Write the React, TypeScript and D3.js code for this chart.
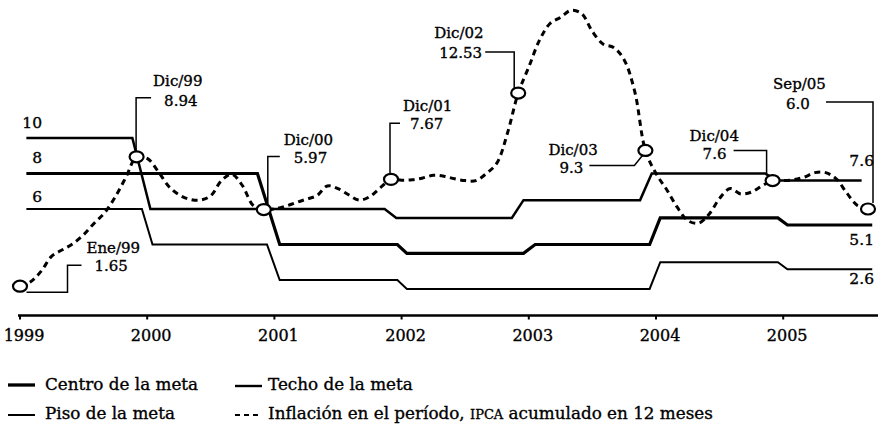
import React from 'react';
import * as d3 from 'd3';

// ---------- DATA ----------
const years = ['1999', '2000', '2001', '2002', '2003', '2004', '2005'];

// IPCA acumulado en 12 meses, Ene/99 .. Sep/05 (monthly)
const inflation = [
  // 1999
  1.65, 1.9, 2.5, 3.35, 3.7, 4.05, 4.55, 5.2, 5.8, 6.7, 7.8, 8.94,
  // 2000
  8.85, 8.15, 7.3, 6.8, 6.55, 6.5, 6.75, 7.6, 7.95, 7.3, 6.2, 5.97,
  // 2001
  6.0, 6.15, 6.35, 6.55, 6.75, 7.3, 7.15, 6.8, 6.5, 6.7, 7.2, 7.67,
  // 2002
  7.62, 7.65, 7.75, 7.9, 7.85, 7.7, 7.6, 7.6, 8.0, 8.6, 10.3, 12.53,
  // 2003
  14.0, 15.5, 16.45, 16.8, 17.2, 17.0, 16.0, 15.3, 15.1, 14.4, 12.6, 9.3,
  // 2004
  8.0, 7.1, 6.1, 5.35, 5.2, 5.7, 6.6, 7.15, 6.85, 6.95, 7.3, 7.6,
  // 2005
  7.6, 7.65, 7.8, 8.05, 8.05, 7.7, 6.9, 6.2, 6.0,
];

// target lines: [month index, value] breakpoints
const techo: [number, number][] = [
  [0.6, 10], [10.6, 10], [12.3, 6], [34.4, 6], [35.5, 5.5], [46.4, 5.5], [47.5, 6.5],
  [58.5, 6.5], [59.6, 8], [70.3, 8], [71.4, 7.6], [79.4, 7.6],
];
const centro: [number, number][] = [
  [0.6, 8], [22.4, 8], [24.5, 4], [35.6, 4], [36.5, 3.5], [47.5, 3.5], [48.6, 4],
  [59.4, 4], [60.4, 5.5], [71.5, 5.5], [72.4, 5.1], [80.4, 5.1],
];
const piso: [number, number][] = [
  [0.6, 6], [11.5, 6], [12.5, 4], [23.3, 4], [24.5, 2], [35.6, 2], [36.5, 1.5],
  [59.4, 1.5], [60.4, 3], [71.5, 3], [72.4, 2.6], [80.4, 2.6],
];

const annoLabels = ['Ene/99', 'Dic/99', 'Dic/00', 'Dic/01', 'Dic/02', 'Dic/03', 'Dic/04', 'Sep/05'];
const annoMonths = [0, 11, 23, 35, 47, 59, 71, 80];
const annoValues = ['1.65', '8.94', '5.97', '7.67', '12.53', '9.3', '7.6', '6.0'];

const startLabels = ['10', '8', '6'];
const endLabels = ['7.6', '5.1', '2.6'];

const legendLabels = ['Centro de la meta', 'Techo de la meta', 'Piso de la meta', 'Inflación en el período, '];

// ---------- LAYOUT ----------
const W = 878;
const H = 424;
const FONT = "'DejaVu Serif', 'Liberation Serif', serif";

// leader / text offsets relative to annotated point
const annoLayout = [
  { leader: [[6.5, 6], [47.5, 6], [47.5, -21], [61.5, -21]], t1: [66.5, -33], t2: [74.5, -15] },
  { leader: [[-0.5, -6], [-0.5, -59], [14.5, -59]], t1: [16.5, -71], t2: [27.5, -51] },
  { leader: [[4, -6], [4, -53], [16, -53]], t1: [20, -65], t2: [30, -47] },
  { leader: [[-1, -6], [-1, -56], [9, -56]], t1: [12, -68], t2: [19, -50] },
  { leader: [[-33, -41], [-4, -41], [-4, -5]], t1: [-84, -55], t2: [-79, -35] },
  { leader: [[-56, 15], [-11, 15], [-3, 5]], t1: [-97, 5], t2: [-86, 23] },
  { leader: [[-39, -30], [-6, -30], [-6, -5]], t1: [-83, -40], t2: [-70, -22] },
  { leader: [[-42, -107], [5, -107], [5, -6]], t1: [-95, -120], t2: [-82, -100] },
];

const txt: React.CSSProperties = { fontFamily: FONT };

export default function App() {
  const x = d3.scaleLinear().domain([0, 80]).range([20, 868]);
  const y = d3.scaleLinear().domain([0, 10]).range([315.5, 138]);
  const axisY = y(0);

  const stepLine = d3
    .line<[number, number]>()
    .x((d) => x(d[0]))
    .y((d) => y(d[1]));

  const inflLine = d3
    .line<number>()
    .x((_, i) => x(i))
    .y((d) => y(d))
    .curve(d3.curveCatmullRom.alpha(0.5));

  const targets = [
    { data: techo, w: 2.5 },
    { data: centro, w: 3.2 },
    { data: piso, w: 2 },
  ];

  const startVals = [techo[0][1], centro[0][1], piso[0][1]];
  const startDy = [-10, -10.5, -7];
  const endVals = [techo[techo.length - 1][1], centro[centro.length - 1][1], piso[piso.length - 1][1]];
  const endDy = [-14.6, 20, 14.6];

  const ink = '#000';
  const halo = { stroke: ink, strokeWidth: 0.35 };

  return (
    <svg
      width={W}
      height={H}
      style={{ position: 'absolute', left: 0, top: 0, background: '#fff', fontFamily: FONT }}
    >
      <rect x={0} y={0} width={W} height={H} fill="#fff" />

      {targets.map((t, i) => (
        <path key={i} d={stepLine(t.data) || ''} fill="none" stroke={ink} strokeWidth={t.w} />
      ))}

      <path
        d={inflLine(inflation) || ''}
        fill="none"
        stroke={ink}
        strokeWidth={3}
        strokeDasharray="6,4.5"
      />

      <line x1={18} x2={W} y1={axisY} y2={axisY} stroke={ink} strokeWidth={2.5} />
      {years.map((yr, i) => (
        <g key={yr}>
          <line x1={x(i * 12)} x2={x(i * 12)} y1={axisY} y2={axisY + 4} stroke={ink} strokeWidth={2} />
          <text x={x(i * 12) + 4} y={341} fontSize={16} textAnchor="middle" fill={ink} {...halo} style={txt}>
            {yr}
          </text>
        </g>
      ))}

      {startLabels.map((s, i) => (
        <text key={s} x={42} y={y(startVals[i]) + startDy[i]} fontSize={15.5} textAnchor="end" fill={ink} {...halo} style={txt}>
          {s}
        </text>
      ))}
      {endLabels.map((s, i) => (
        <text key={s} x={874} y={y(endVals[i]) + endDy[i]} fontSize={15.5} textAnchor="end" fill={ink} {...halo} style={txt}>
          {s}
        </text>
      ))}

      {annoMonths.map((m, i) => {
        const px = x(m);
        const py = y(inflation[m]);
        const L = annoLayout[i];
        const pts = L.leader.map((p) => `${px + p[0]},${py + p[1]}`).join(' ');
        return (
          <g key={annoLabels[i]}>
            <polyline points={pts} fill="none" stroke={ink} strokeWidth={1.5} />
            <ellipse cx={px} cy={py} rx={7} ry={5.5} fill="#fff" stroke={ink} strokeWidth={2.2} />
            <text x={px + L.t1[0]} y={py + L.t1[1]} fontSize={15} fill={ink} {...halo} style={txt}>
              {annoLabels[i]}
            </text>
            <text x={px + L.t2[0]} y={py + L.t2[1]} fontSize={15} fill={ink} {...halo} style={txt}>
              {annoValues[i]}
            </text>
          </g>
        );
      })}

      <g fill={ink}>
        <line x1={8} x2={35} y1={385} y2={385} stroke={ink} strokeWidth={3.3} />
        <text x={45} y={390} fontSize={16.8} {...halo} style={txt}>{legendLabels[0]}</text>
        <line x1={235} x2={262} y1={386} y2={386} stroke={ink} strokeWidth={2.4} />
        <text x={268} y={390} fontSize={16.8} {...halo} style={txt}>{legendLabels[1]}</text>
        <line x1={8} x2={35} y1={415} y2={415} stroke={ink} strokeWidth={2} />
        <text x={45} y={419} fontSize={16.8} {...halo} style={txt}>{legendLabels[2]}</text>
        <line x1={235} x2={262} y1={415} y2={415} stroke={ink} strokeWidth={2} strokeDasharray="5,4" />
        <text x={268} y={419} fontSize={16.8} {...halo} style={txt}>
          {legendLabels[3]}
          <tspan fontSize={13}>IPCA</tspan>
          {' acumulado en 12 meses'}
        </text>
      </g>
    </svg>
  );
}
